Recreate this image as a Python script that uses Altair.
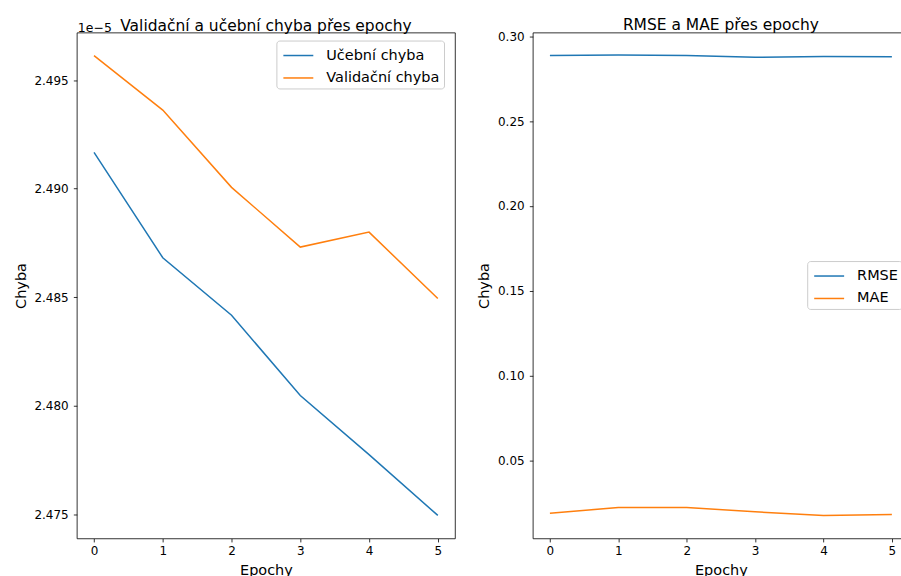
import altair as alt
import pandas as pd

# ---- data ----
epochs = [0, 1, 2, 3, 4, 5]
train_loss = [2.49167, 2.48682, 2.48417, 2.48047, 2.47775, 2.47495]   # x 1e-5
val_loss = [2.49613, 2.49362, 2.49006, 2.48731, 2.48800, 2.48494]     # x 1e-5
rmse = [0.2886, 0.2890, 0.2886, 0.2876, 0.2881, 0.2879]
mae = [0.0188, 0.0221, 0.0221, 0.0196, 0.0174, 0.0180]

loss_series = ["Učební chyba", "Validační chyba"]
metric_series = ["RMSE", "MAE"]
series_colors = ["#1f77b4", "#ff7f0e"]
left_y_ticks = [2.475, 2.480, 2.485, 2.490, 2.495]
right_y_ticks = [0.05, 0.10, 0.15, 0.20, 0.25, 0.30]
offset_label = ["1e\u22125"]

FONT = "DejaVu Sans"

loss_df = pd.DataFrame({
    "Epocha": epochs * 2,
    "Hodnota": train_loss + val_loss,
    "Řada": [loss_series[0]] * len(epochs) + [loss_series[1]] * len(epochs),
})
metric_df = pd.DataFrame({
    "Epocha": epochs * 2,
    "Hodnota": rmse + mae,
    "Řada": [metric_series[0]] * len(epochs) + [metric_series[1]] * len(epochs),
})
offset_df = pd.DataFrame({"t": offset_label})

x_enc = alt.X("Epocha:Q", title="Epochy",
              scale=alt.Scale(domain=[-0.25, 5.25], nice=False, zero=False),
              axis=alt.Axis(values=epochs, format="d", labelAngle=0))


def legend(x, y):
    return alt.Legend(title=None, orient="none", legendX=x, legendY=y,
                      fillColor="white", strokeColor="#cccccc", cornerRadius=3,
                      padding=4, symbolType="M-1.5,0H1.5", symbolSize=400,
                      symbolStrokeWidth=1.5, symbolOffset=7, labelOffset=17,
                      rowPadding=4.5, labelFontSize=14.5, labelFont=FONT,
                      labelColor="black", labelLimit=300)


left_lines = alt.Chart(loss_df).mark_line(strokeWidth=1.5).encode(
    x=x_enc,
    y=alt.Y("Hodnota:Q", title="Chyba",
            scale=alt.Scale(domain=[2.47389, 2.49719], nice=False, zero=False),
            axis=alt.Axis(values=left_y_ticks, format=".3f")),
    color=alt.Color("Řada:N", sort=loss_series,
                    scale=alt.Scale(domain=loss_series, range=series_colors),
                    legend=legend(200, 8)),
)
offset_text = alt.Chart(offset_df).mark_text(
    align="left", baseline="alphabetic", fontSize=12.5, font=FONT, color="black"
).encode(text="t:N", x=alt.value(1), y=alt.value(-1))

left = alt.layer(left_lines, offset_text).properties(
    width=379, height=507,
    title=alt.TitleParams("Validační a učební chyba přes epochy", offset=-13))

right = alt.Chart(metric_df).mark_line(strokeWidth=1.5).encode(
    x=x_enc,
    y=alt.Y("Hodnota:Q", title="Chyba",
            scale=alt.Scale(domain=[0.00388, 0.30218], nice=False, zero=False),
            axis=alt.Axis(values=right_y_ticks, format=".2f")),
    color=alt.Color("Řada:N", sort=metric_series,
                    scale=alt.Scale(domain=metric_series, range=series_colors),
                    legend=legend(275, 229)),
).properties(width=377, height=507,
             title=alt.TitleParams("RMSE a MAE přes epochy", offset=-3))

chart = alt.hconcat(left, right, spacing=20).resolve_scale(
    color="independent"
).properties(
    padding={"left": 13, "top": 16, "right": -9, "bottom": -2.5}
).configure(
    background="white"
).configure_view(
    stroke="black", strokeWidth=0.8
).configure_axis(
    domain=False, grid=False, tickColor="black", tickSize=3.5, tickWidth=0.8,
    labelFont=FONT, labelFontSize=12, labelColor="black", labelPadding=5.2,
    titleFont=FONT, titleFontSize=14.5, titleFontWeight="normal",
    titleColor="black", titlePadding=5.5,
).configure_axisX(
    labelPadding=3.5, titlePadding=7,
).configure_title(
    font=FONT, fontSize=15.5, fontWeight="normal", color="black",
    anchor="middle",
)

chart.save("out.html", embed_options={"renderer": "svg", "actions": False})
